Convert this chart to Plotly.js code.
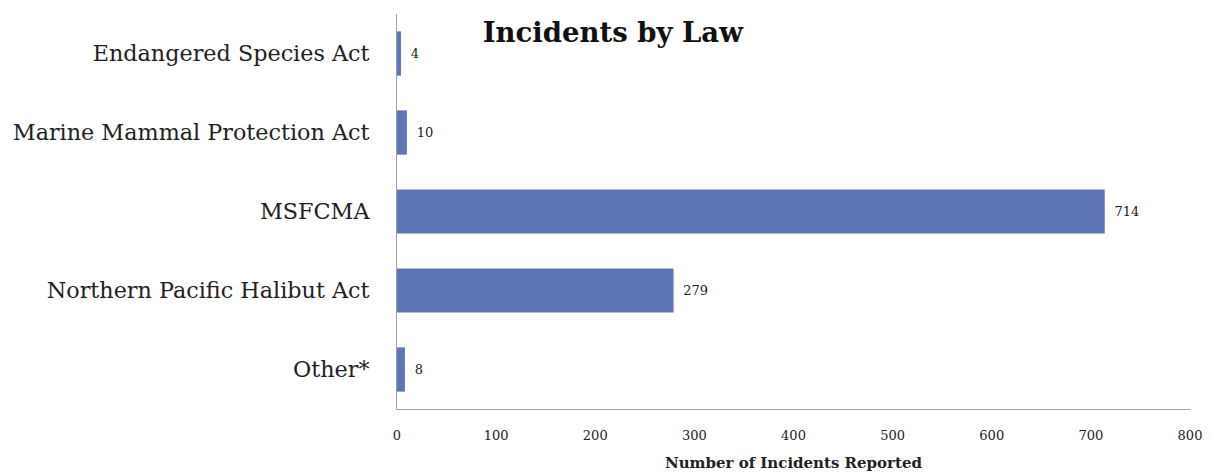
<!DOCTYPE html>
<html><head><meta charset="utf-8">
<script src="https://cdn.plot.ly/plotly-3.0.1.min.js"></script>
<style>html,body{margin:0;padding:0;background:#fff;}#chart{width:1211px;height:472px;}</style>
</head><body><div id="chart"></div>
<script>
const categories = ["Endangered Species Act", "Marine Mammal Protection Act", "MSFCMA", "Northern Pacific Halibut Act", "Other*"];
const incidents = [4, 10, 714, 279, 8];
const xTicks = [0, 100, 200, 300, 400, 500, 600, 700, 800];

const serif = "DejaVu Serif, Liberation Serif, serif";
Plotly.newPlot("chart", [{
  type: "bar",
  orientation: "h",
  y: categories,
  x: incidents,
  marker: {color: "#5f76b6"},
  text: incidents.map(v => "\u2009 " + v),
  textposition: "outside",
  cliponaxis: false,
  textfont: {family: serif, size: 13, color: "#222"},
  hoverinfo: "none"
}], {
  width: 1211, height: 472,
  margin: {l: 397, r: 21, t: 14, b: 63},
  paper_bgcolor: "#fff", plot_bgcolor: "#fff",
  bargap: 0.44,
  showlegend: false,
  title: {text: "<b>Incidents by Law</b>", font: {family: serif, size: 27.5, color: "#111"},
          xref: "container", x: 0.506, xanchor: "center", yref: "container", y: 0.932, yanchor: "middle"},
  xaxis: {range: [0, 800], tickvals: xTicks, ticktext: xTicks.map(String), showgrid: false, zeroline: false,
          showline: true, linecolor: "#a0a0a0", linewidth: 1, ticks: "", ticklabelstandoff: 14,
          tickfont: {family: serif, size: 13, color: "#222"},
          title: {text: "<b>Number of Incidents Reported</b>", font: {family: serif, size: 15, color: "#222"}, standoff: 16}},
  yaxis: {autorange: "reversed", showgrid: false, zeroline: false, showline: true, linecolor: "#a0a0a0", linewidth: 1,
          ticks: "", ticklabelstandoff: 22, tickfont: {family: serif, size: 22.3, color: "#222"}}
}, {displayModeBar: false, staticPlot: true});
</script></body></html>
